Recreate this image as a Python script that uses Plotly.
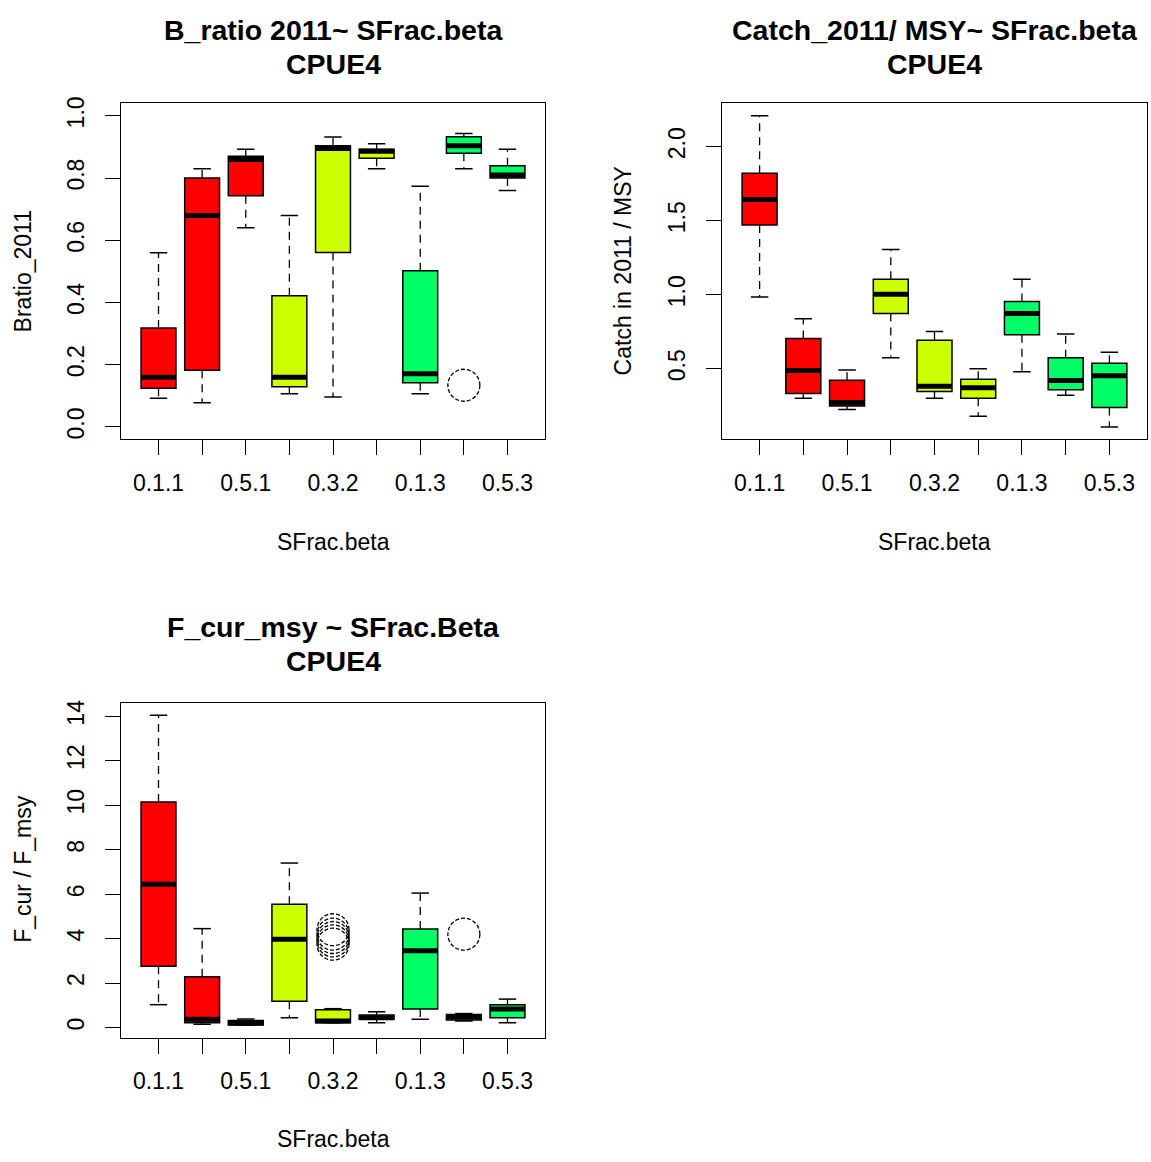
import plotly.graph_objects as go

W, H = 1151, 1162
FONT = "Liberation Sans, Arial, sans-serif"

categories = ["0.1.1", "0.3.1", "0.5.1", "0.1.2", "0.3.2", "0.5.2", "0.1.3", "0.3.3", "0.5.3"]
colors = ["#FF0000"] * 3 + ["#CCFF00"] * 3 + ["#00FF66"] * 3

# Panel 1: Bratio_2011
b_lo  = [0.092, 0.078, 0.640, 0.107, 0.096, 0.830, 0.107, 0.830, 0.760]
b_q1  = [0.124, 0.182, 0.743, 0.129, 0.561, 0.864, 0.142, 0.880, 0.800]
b_med = [0.160, 0.680, 0.860, 0.160, 0.895, 0.886, 0.171, 0.904, 0.810]
b_q3  = [0.318, 0.800, 0.870, 0.422, 0.904, 0.893, 0.502, 0.933, 0.840]
b_hi  = [0.560, 0.830, 0.893, 0.680, 0.932, 0.910, 0.774, 0.943, 0.893]
b_out = [[], [], [], [], [], [], [], [0.134], []]

# Panel 2: Catch in 2011 / MSY
c_lo  = [0.984, 0.300, 0.225, 0.574, 0.300, 0.179, 0.480, 0.321, 0.107]
c_q1  = [1.471, 0.333, 0.248, 0.873, 0.346, 0.300, 0.730, 0.359, 0.239]
c_med = [1.643, 0.489, 0.272, 1.004, 0.382, 0.371, 0.873, 0.420, 0.453]
c_q3  = [1.821, 0.705, 0.422, 1.105, 0.692, 0.429, 0.955, 0.574, 0.538]
c_hi  = [2.208, 0.837, 0.491, 1.306, 0.752, 0.500, 1.105, 0.734, 0.612]
c_out = [[], [], [], [], [], [], [], [], []]

# Panel 3: F_cur / F_msy
f_lo  = [1.03, 0.15, 0.10, 0.44, 0.22, 0.22, 0.37, 0.30, 0.22]
f_q1  = [2.76, 0.22, 0.12, 1.18, 0.22, 0.37, 0.84, 0.34, 0.44]
f_med = [6.45, 0.37, 0.20, 3.97, 0.30, 0.44, 3.45, 0.47, 0.84]
f_q3  = [10.15, 2.29, 0.32, 5.55, 0.80, 0.56, 4.43, 0.59, 1.03]
f_hi  = [14.05, 4.45, 0.38, 7.40, 0.85, 0.71, 6.05, 0.63, 1.28]
f_out = [[], [], [], [], [3.75, 3.9, 4.05, 4.2, 4.4], [], [], [4.2], []]

yticks1 = [0.0, 0.2, 0.4, 0.6, 0.8, 1.0]
yticks2 = [0.5, 1.0, 1.5, 2.0]
yticks3 = [0, 2, 4, 6, 8, 10, 12, 14]

positions = list(range(1, len(categories) + 1))


def px_x(px):
    return px / W


def px_y(py):
    return 1 - py / H


fig = go.Figure()
shapes = []


def add_panel(ax, lo, q1, med, q3, hi, outs):
    xa, ya = "x" + ax, "y" + ax
    # boxes grouped by colour
    for col in dict.fromkeys(colors):
        idx = [i for i, c in enumerate(colors) if c == col]
        fig.add_trace(go.Box(
            x=[positions[i] for i in idx],
            q1=[q1[i] for i in idx], median=[med[i] for i in idx], q3=[q3[i] for i in idx],
            lowerfence=[q1[i] for i in idx], upperfence=[q3[i] for i in idx],
            width=0.8, whiskerwidth=0, fillcolor=col,
            line=dict(color="black", width=1.5), boxpoints=False,
            xaxis=xa, yaxis=ya, showlegend=False, hoverinfo="skip"))
    wx, wy, cx, cy, mx, my = [], [], [], [], [], []
    for i, p in enumerate(positions):
        wx += [p, p, None, p, p, None]
        wy += [q3[i], hi[i], None, q1[i], lo[i], None]
        cx += [p - 0.2, p + 0.2, None, p - 0.2, p + 0.2, None]
        cy += [hi[i], hi[i], None, lo[i], lo[i], None]
        mx += [p - 0.4, p + 0.4, None]
        my += [med[i], med[i], None]
    fig.add_trace(go.Scatter(x=wx, y=wy, mode="lines", xaxis=xa, yaxis=ya,
                             line=dict(color="black", width=1.3, dash="8px,6px"),
                             showlegend=False, hoverinfo="skip"))
    fig.add_trace(go.Scatter(x=cx, y=cy, mode="lines", xaxis=xa, yaxis=ya,
                             line=dict(color="black", width=1.5),
                             showlegend=False, hoverinfo="skip"))
    fig.add_trace(go.Scatter(x=mx, y=my, mode="lines", xaxis=xa, yaxis=ya,
                             line=dict(color="black", width=5),
                             showlegend=False, hoverinfo="skip"))
    for i, p in enumerate(positions):
        for v in outs[i]:
            shapes.append(dict(type="circle", xref=xa, yref=ya,
                               xsizemode="pixel", ysizemode="pixel",
                               xanchor=p, yanchor=v, x0=-16, x1=16, y0=-16, y1=16,
                               line=dict(color="black", width=1.3, dash="4px,2px"),
                               fillcolor="rgba(0,0,0,0)"))
    allv = lo + hi + [v for o in outs for v in o]
    return min(allv), max(allv)


r1 = (-0.04, 1.04)  # ylim = c(0, 1)
add_panel("", b_lo, b_q1, b_med, b_q3, b_hi, b_out)
mn2, mx2 = add_panel("2", c_lo, c_q1, c_med, c_q3, c_hi, c_out)
mn3, mx3 = add_panel("3", f_lo, f_q1, f_med, f_q3, f_hi, f_out)
r2 = (mn2 - 0.04 * (mx2 - mn2), mx2 + 0.04 * (mx2 - mn2))
r3 = (mn3 - 0.04 * (mx3 - mn3), mx3 + 0.04 * (mx3 - mn3))

n = len(categories)
xr = (0.5 - 0.04 * n, n + 0.5 + 0.04 * n)
ticktext = [c if i % 2 == 0 else "" for i, c in enumerate(categories)]

AX = 23
axfont = dict(family=FONT, size=AX, color="black")
common = dict(showline=True, mirror=True, linecolor="black", linewidth=1.2,
              ticks="outside", ticklen=15, tickwidth=1.2, tickcolor="black",
              showgrid=False, zeroline=False, tickfont=axfont, fixedrange=True)


def xaxis(dom, anchor):
    return dict(domain=dom, anchor=anchor, range=list(xr), tickvals=positions,
                ticktext=ticktext, ticklabelstandoff=8, **common)


def yaxis(dom, anchor, rng, tv, fmt):
    return dict(domain=dom, anchor=anchor, range=list(rng), tickvals=tv,
                ticktext=[fmt.format(t) for t in tv], tickangle=-90,
                ticklabelstandoff=12, **common)


dx1 = [px_x(121), px_x(545)]
dx2 = [px_x(722), px_x(1147)]
dyt = [px_y(435), px_y(97)]
dyb = [px_y(1037), px_y(700)]

annotations = []


def ann(text, x, y, size=AX, bold=False, angle=0):
    annotations.append(dict(text=f"<b>{text}</b>" if bold else text,
                            x=px_x(x), y=px_y(y), xref="paper", yref="paper",
                            xanchor="center", yanchor="middle", showarrow=False,
                            textangle=angle, font=dict(family=FONT, size=size, color="black")))


TS = 28.5
ann("B_ratio 2011~ SFrac.beta", 333, 23, TS, True)
ann("CPUE4", 333, 57, TS, True)
ann("Catch_2011/ MSY~ SFrac.beta", 934.5, 23, TS, True)
ann("CPUE4", 934.5, 57, TS, True)
ann("F_cur_msy ~ SFrac.Beta", 333, 624, TS, True)
ann("CPUE4", 333, 658, TS, True)
ann("SFrac.beta", 333, 538)
ann("SFrac.beta", 934.5, 538)
ann("SFrac.beta", 333, 1139)
ann("Bratio_2011", 23, 266, angle=-90)
ann("Catch in 2011 / MSY", 623, 266, angle=-90)
ann("F_cur / F_msy", 23, 868, angle=-90)

fig.update_layout(
    width=W, height=H, margin=dict(l=0, r=0, t=0, b=0),
    paper_bgcolor="white", plot_bgcolor="white", showlegend=False,
    boxmode="overlay",
    xaxis=xaxis(dx1, "y"), yaxis=yaxis(dyt, "x", r1, yticks1, "{:.1f}"),
    xaxis2=xaxis(dx2, "y2"), yaxis2=yaxis(dyt, "x2", r2, yticks2, "{:.1f}"),
    xaxis3=xaxis(dx1, "y3"), yaxis3=yaxis(dyb, "x3", r3, yticks3, "{:d}"),
    shapes=shapes, annotations=annotations,
)

fig.write_html("out.html", config={"displayModeBar": False},
               post_script="document.body.style.margin='0';")
